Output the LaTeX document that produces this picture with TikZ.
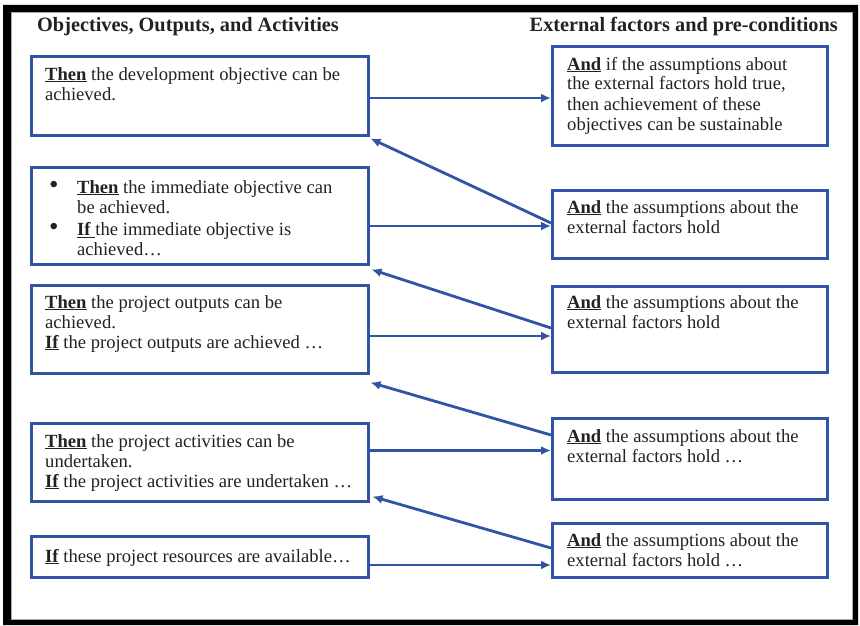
\documentclass[tikz,border=0pt]{standalone}
\usepackage{fontspec}
\setmainfont{Liberation Serif}
\usetikzlibrary{arrows.meta,calc,fit}
\definecolor{frameblue}{RGB}{50,84,165}
\definecolor{inkgray}{RGB}{34,34,34}
\newcommand\kw[1]{\underline{\textbf{#1}}}
\newcommand\bigdot{\makebox[28pt][l]{\fontsize{27}{20}\selectfont\textbullet}}

\begin{document}
\begin{tikzpicture}[x=1pt,y=-1pt,
  box/.style={draw=frameblue, line width=3pt, inner sep=0pt},
  % multi-line text nodes are placed by the baseline of their last line
  txt/.style={anchor=base west, inner sep=0pt, align=left, text=inkgray,
    font=\fontsize{18.6}{20}\selectfont},
  head/.style={inner sep=0pt, text=inkgray,
    font=\fontsize{20.3}{22}\selectfont\bfseries},
  link/.style={draw=frameblue, line width=2.8pt, -{Latex[length=10pt,width=9pt]}},
]
\useasboundingbox (0,0) rectangle (860,626);
\fill[white] (0,0) rectangle (860,626);

% heavy outer frame
\fill[black, even odd rule] (3,5) rectangle (858,625) (11,12) rectangle (853,620);
\draw[gray!70, line width=1.2pt] (11.6,12.6) rectangle (852.4,619.4);

% column headings
\node[head, anchor=base west] (hl) at (37,32) {Objectives, Outputs, and Activities};
\node[head, anchor=base east] (hr) at (838,32) {External factors and pre-conditions};

% left column boxes
\node[box, fit={(31.5,56.5) (368,135)}] (L1) {};
\node[box, fit={(31.5,167.5) (368,264)}] (L2) {};
\node[box, fit={(31.5,285) (368,373)}] (L3) {};
\node[box, fit={(31.5,423.5) (368,501)}] (L4) {};
\node[box, fit={(31.5,536.5) (368,577.5)}] (L5) {};

% right column boxes
\node[box, fit={(552.5,46.5) (827.5,145)}] (R1) {};
\node[box, fit={(552.5,190) (827.5,258.5)}] (R2) {};
\node[box, fit={(552.5,286.5) (827.5,372.5)}] (R3) {};
\node[box, fit={(552.5,418.5) (827.5,499)}] (R4) {};
\node[box, fit={(552.5,523.5) (827.5,577.5)}] (R5) {};

% left column texts
\node[txt] (t1) at (45,100) {\kw{Then} the development objective can be\\achieved.};
\node[txt] (t2) at (49,255.5) {\bigdot\kw{Then} the immediate objective can\\
  \hspace*{28pt}be achieved.\\[2.5pt]
  \bigdot\kw{If }the immediate objective is\\
  \hspace*{28pt}achieved…};
\node[txt] (t3) at (45,348) {\kw{Then} the project outputs can be\\achieved.\\\kw{If} the project outputs are achieved …};
\node[txt] (t4) at (45,487) {\kw{Then} the project activities can be\\undertaken.\\\kw{If} the project activities are undertaken …};
\node[txt] (t5) at (45,562) {\kw{If} these project resources are available…};

% right column texts
\node[txt] (u1) at (567,130) {\kw{And} if the assumptions about\\the external factors hold true,\\then achievement of these\\objectives can be sustainable};
\node[txt] (u2) at (567,233) {\kw{And} the assumptions about the\\external factors hold};
\node[txt] (u3) at (567,328) {\kw{And} the assumptions about the\\external factors hold};
\node[txt] (u4) at (567,462) {\kw{And} the assumptions about the\\external factors hold …};
\node[txt] (u5) at (567,566) {\kw{And} the assumptions about the\\external factors hold …};

% forward links: each level to its assumptions
\draw[link] (L1.east |- 0,98) -- (R1.west |- 0,98);
\draw[link] (L2.east |- 0,226) -- (R2.west |- 0,226);
\draw[link] (L3.east |- 0,336) -- (R3.west |- 0,336);
\draw[link] (L4.east |- 0,450.5) -- (R4.west |- 0,450.5);
\draw[link] (L5.east |- 0,565) -- (R5.west |- 0,565);

% assumptions feeding the next level up
\draw[link] (R2.west |- 0,223) -- ($(L1.south east)+(1,2)$);
\draw[link] (R3.west |- 0,328) -- ($(L2.south east)+(2,4)$);
\draw[link] (R4.west |- 0,435) -- ($(L3.south east)+(1,8)$);
\draw[link] (R5.west |- 0,548) -- ($(L4.south east)+(3,-6)$);
\end{tikzpicture}
\end{document}
